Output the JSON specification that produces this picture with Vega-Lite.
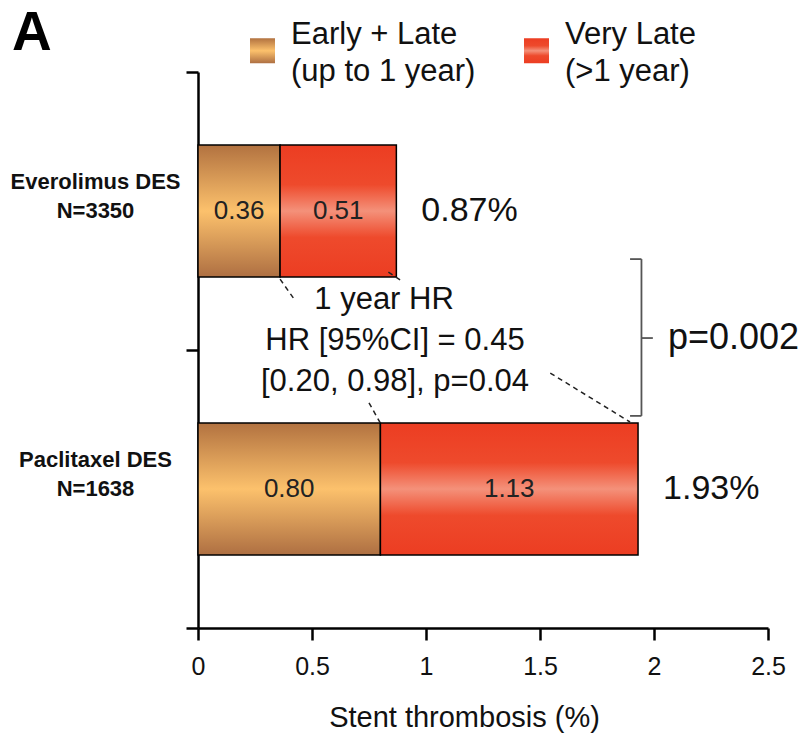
{
  "$schema": "https://vega.github.io/schema/vega-lite/v6.json",
  "width": 570,
  "height": 556,
  "autosize": {"type": "none"},
  "padding": {"left": 198, "top": 72, "right": 37, "bottom": 109},
  "background": "white",
  "title": {"text": "A", "anchor": "start", "frame": "group", "fontSize": 55, "fontWeight": "bold", "font": "Liberation Sans", "color": "#000", "dx": -186, "dy": 49, "offset": 22},
  "config": {
    "view": {"stroke": null},
    "font": "Liberation Sans",
    "axis": {"grid": false, "domainColor": "#000", "domainWidth": 2.5, "tickColor": "#000", "tickWidth": 2.5, "tickSize": 12, "labelColor": "#111", "titleColor": "#111", "labelFont": "Liberation Sans", "titleFont": "Liberation Sans", "titleFontWeight": "normal"},
    "style": {"guide-label": {"lineHeight": 37}}
  },
  "datasets": {
    "bars": [
      {"group": "Everolimus DES|N=3350", "period": "Early + Late|(up to 1 year)", "value": 0.36},
      {"group": "Everolimus DES|N=3350", "period": "Very Late|(>1 year)", "value": 0.51},
      {"group": "Paclitaxel DES|N=1638", "period": "Early + Late|(up to 1 year)", "value": 0.80},
      {"group": "Paclitaxel DES|N=1638", "period": "Very Late|(>1 year)", "value": 1.13}
    ],
    "totals": [
      {"group": "Everolimus DES|N=3350", "total": 0.87, "label": "0.87%"},
      {"group": "Paclitaxel DES|N=1638", "total": 1.93, "label": "1.93%"}
    ],
    "notes": [
      {"x": 0.816, "y": 0.82, "text": "1 year HR"},
      {"x": 0.864, "y": 0.968, "text": "HR [95%CI] = 0.45"},
      {"x": 0.864, "y": 1.115, "text": "[0.20, 0.98], p=0.04"}
    ],
    "dashes": [
      {"x1": 0.36, "x2": 0.42, "y1": 0.745, "y2": 0.815},
      {"x1": 0.835, "x2": 0.9, "y1": 0.72, "y2": 0.755},
      {"x1": 0.75, "x2": 0.8, "y1": 1.19, "y2": 1.263},
      {"x1": 1.545, "x2": 1.895, "y1": 1.083, "y2": 1.259}
    ],
    "bracket": [
      {"x1": 1.945, "x2": 1.945, "y1": 0.673, "y2": 1.237},
      {"x1": 1.895, "x2": 1.945, "y1": 0.673, "y2": 0.673},
      {"x1": 1.895, "x2": 1.945, "y1": 1.237, "y2": 1.237},
      {"x1": 1.945, "x2": 1.995, "y1": 0.957, "y2": 0.957}
    ],
    "pvalue": [
      {"x": 2.061, "y": 0.957, "text": "p=0.002"}
    ]
  },
  "layer": [
    {
      "layer": [
        {
          "data": {"name": "bars"},
          "transform": [
            {"stack": "value", "groupby": ["group"], "sort": [{"field": "period", "order": "ascending"}], "as": ["x0", "x1"]}
          ],
          "layer": [
            {
              "mark": {"type": "bar", "stroke": "#000", "strokeWidth": 1.5, "height": {"band": 0.475}},
              "encoding": {
                "y": {
                  "field": "group", "type": "nominal", "sort": null,
                  "scale": {"paddingInner": 0, "paddingOuter": 0},
                  "axis": {"title": null, "tickBand": "extent", "labelExpr": "split(datum.label, '|')", "labelFontSize": 22, "labelFontWeight": "bold", "labelAlign": "center", "labelPadding": 91, "labelBaseline": "middle", "labelOffset": -30, "labelLineHeight": 29, "labelLimit": 300, "labelColor": "#111"}
                },
                "x": {
                  "field": "x0", "type": "quantitative",
                  "scale": {"domain": [0, 2.5], "nice": false},
                  "title": "Stent thrombosis (%)",
                  "axis": {"values": [0, 0.5, 1, 1.5, 2, 2.5], "format": "~g", "labelFontSize": 25, "titleFontSize": 29, "labelPadding": 14, "titlePadding": 24, "titleX": 266, "labelFlush": false}
                },
                "x2": {"field": "x1"},
                "color": {
                  "field": "period", "type": "nominal",
                  "scale": {
                    "domain": ["Early + Late|(up to 1 year)", "Very Late|(>1 year)"],
                    "range": [
                      {"expr": "{gradient:'linear',x1:0,y1:0,x2:0,y2:1,stops:[{offset:0,color:'#B27240'},{offset:0.5,color:'#FCC16C'},{offset:1,color:'#AE6F42'}]}"},
                      {"expr": "{gradient:'linear',x1:0,y1:0,x2:0,y2:1,stops:[{offset:0,color:'#EC3D22'},{offset:0.3,color:'#EE4A2C'},{offset:0.5,color:'#F4917A'},{offset:0.7,color:'#EE4A2C'},{offset:1,color:'#EC3D22'}]}"}
                    ]
                  },
                  "legend": {"orient": "none", "legendX": 49, "legendY": -37, "direction": "horizontal", "title": null, "symbolType": "square", "symbolSize": 625, "symbolStrokeWidth": 0, "labelFontSize": 31, "labelFont": "Liberation Sans", "labelColor": "#111", "labelExpr": "split(datum.label, '|')", "labelOffset": 13, "columnPadding": 45, "labelLimit": 400, "labelBaseline": "bottom"}
                }
              }
            },
            {
              "transform": [
                {"fold": ["x0", "x1"], "as": ["edge", "pos"]},
                {"aggregate": [{"op": "mean", "field": "pos", "as": "mid"}], "groupby": ["group", "period", "value"]}
              ],
              "mark": {"type": "text", "fontSize": 26, "color": "#222", "align": "center", "baseline": "middle"},
              "encoding": {
                "y": {"field": "group", "type": "nominal", "sort": null},
                "x": {"field": "mid", "type": "quantitative", "title": "Stent thrombosis (%)"},
                "text": {"field": "value", "type": "quantitative", "format": ".2f"}
              }
            }
          ]
        },
        {
          "data": {"name": "totals"},
          "mark": {"type": "text", "fontSize": 34, "color": "#111", "align": "left", "baseline": "middle", "dx": 25},
          "encoding": {
            "y": {"field": "group", "type": "nominal", "sort": null},
            "x": {"field": "total", "type": "quantitative", "title": "Stent thrombosis (%)"},
            "text": {"field": "label", "type": "nominal"}
          }
        }
      ]
    },
    {
      "layer": [
        {
          "data": {"name": "dashes"},
          "mark": {"type": "rule", "color": "#222", "strokeWidth": 1.5, "strokeDash": [5, 4]},
          "encoding": {
            "x": {"field": "x1", "type": "quantitative", "title": "Stent thrombosis (%)"},
            "x2": {"field": "x2"},
            "y": {"field": "y1", "type": "quantitative", "scale": {"domain": [0, 2], "reverse": true, "nice": false}, "axis": null},
            "y2": {"field": "y2"}
          }
        },
        {
          "data": {"name": "bracket"},
          "mark": {"type": "rule", "color": "#555", "strokeWidth": 1.8},
          "encoding": {
            "x": {"field": "x1", "type": "quantitative", "title": "Stent thrombosis (%)"},
            "x2": {"field": "x2"},
            "y": {"field": "y1", "type": "quantitative", "scale": {"domain": [0, 2], "reverse": true, "nice": false}, "axis": null},
            "y2": {"field": "y2"}
          }
        },
        {
          "data": {"name": "notes"},
          "mark": {"type": "text", "fontSize": 31, "color": "#111", "align": "center", "baseline": "middle"},
          "encoding": {
            "x": {"field": "x", "type": "quantitative", "title": "Stent thrombosis (%)"},
            "y": {"field": "y", "type": "quantitative", "scale": {"domain": [0, 2], "reverse": true, "nice": false}, "axis": null},
            "text": {"field": "text", "type": "nominal"}
          }
        },
        {
          "data": {"name": "pvalue"},
          "mark": {"type": "text", "fontSize": 36, "color": "#111", "align": "left", "baseline": "middle"},
          "encoding": {
            "x": {"field": "x", "type": "quantitative", "title": "Stent thrombosis (%)"},
            "y": {"field": "y", "type": "quantitative", "scale": {"domain": [0, 2], "reverse": true, "nice": false}, "axis": null},
            "text": {"field": "text", "type": "nominal"}
          }
        }
      ]
    }
  ],
  "resolve": {"scale": {"y": "independent"}}
}
